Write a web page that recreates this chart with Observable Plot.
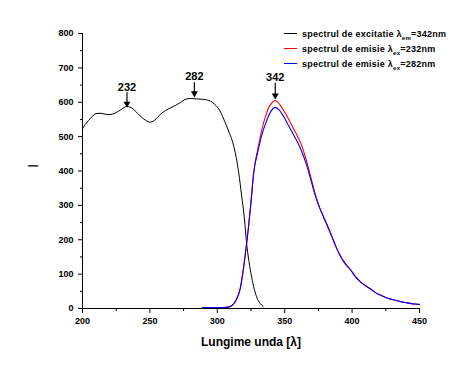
<!DOCTYPE html>
<html>
<head>
<meta charset="utf-8">
<script src="https://cdn.jsdelivr.net/npm/d3@7"></script>
<script src="https://cdn.jsdelivr.net/npm/@observablehq/plot@0.6"></script>
<style>
  html, body { margin: 0; padding: 0; background: #fff; }
  #wrap { position: relative; width: 461px; height: 375px; font-family: "Liberation Sans", Arial, sans-serif; }
  #legend { position: absolute; left: 284px; top: 26px; font-size: 9px; letter-spacing: 0.25px; font-weight: bold; color: #000; }
  #legend .row { display: flex; align-items: center; height: 15px; white-space: nowrap; }
  #legend svg { margin-right: 5px; }
  #legend sub { font-size: 6px; vertical-align: -3px; line-height: 0; }
</style>
</head>
<body>
<div id="wrap"><div id="legend"></div></div>
<script>
// Excitation spectrum (λem = 342 nm)
const lambdaExc = [200,202,204.5,207,210,213,216,219,222,225,228,231,233,235,238,241,244,247,250,253,256,259,264,269,273,276,280,284,288,292,295,298,300,302,304,307,309,311,314,316,318,320,322,324,326,328,330,332,334];
const intensityExc = [523,535,547,558,567,568,566,564,565,570,577,585,588,586,579,567,556,547,542,546,558,569,581,591,600,608,611,610,609,607,603,594,586,575,558,530,510,489,440,392,330,266,180,125,81,48,26,14,6];

// Emission spectra (shared wavelength grid)
const lambdaEm = [289,300,305,308,311,314,317,319,321,323,325,327,330,331,333,336,338,340,343,346,349,353,357,360,363,366,369,372,376,379,382,385,388,391,395,399,402,406,410,414,417,421,425,428,432,436,440,443,447,450];
const intensityEm232 = [3,3,3,4,9,25,58,105,165,232,310,395,463,482,520,562,583,596,605,595,578,550,520,497,470,432,388,342,292,265,238,209,180,155,130,112,95,78,66,56,47,39,32,28,24,20,17,15,13,12];
const intensityEm282 = [3,3,3,4,9,25,58,105,165,232,310,395,455,472,505,540,560,575,585,577,560,531,502,480,453,420,380,337,292,265,238,209,180,155,130,112,95,78,66,56,47,39,32,28,24,20,17,15,13,12];

// Peak annotations
const peakLabels = ["232","282","342"];
const peakX = [233,283,343];
const peakLabelY = [634,666,663];
const peakArrowTop = [628,657,655];
const peakArrowTip = [590,620,614];

// Ticks
const xTicks = [200,250,300,350,400,450];
const xMinorTicks = [225,275,325,375,425];
const yTicks = [0,100,200,300,400,500,600,700,800];
const yMinorTicks = [50,150,250,350,450,550,650,750];

// Legend
const seriesNames = [["spectrul de excitatie λ","em","=342nm"],["spectrul de emisie λ","ex","=232nm"],["spectrul de emisie λ","ex","=282nm"]];
const seriesColors = ["#000000","#ff0000","#0000ff"];

const exc = lambdaExc.map((x,i)=>({x, y: intensityExc[i]}));
const em232 = lambdaEm.map((x,i)=>({x, y: intensityEm232[i]}));
const em282 = lambdaEm.map((x,i)=>({x, y: intensityEm282[i]}));
const peaks = peakLabels.map((label,i)=>({label, x: peakX[i], ly: peakLabelY[i], top: peakArrowTop[i], tip: peakArrowTip[i]}));

const chart = Plot.plot({
  width: 461,
  height: 375,
  marginLeft: 82,
  marginRight: 42,
  marginTop: 33,
  marginBottom: 67,
  style: {fontFamily: "'Liberation Sans', Arial, sans-serif", fontSize: "9px", fontWeight: "bold", color: "#000", background: "transparent"},
  x: {domain: [200,450]},
  y: {domain: [0,800]},
  marks: [
    Plot.axisX(xTicks, {tickSize: 5, tickPadding: 4, label: null}),
    Plot.axisX(xMinorTicks, {tickSize: 3, text: null, label: null}),
    Plot.axisY(yTicks, {tickSize: 4, tickPadding: 5, label: null}),
    Plot.axisY(yMinorTicks, {tickSize: 2, text: null, label: null}),
    Plot.ruleX([200], {stroke: "#000"}),
    Plot.ruleY([0], {stroke: "#000"}),
    Plot.line(exc, {x: "x", y: "y", stroke: seriesColors[0], strokeWidth: 1, curve: "monotone-x"}),
    Plot.line(em232, {x: "x", y: "y", stroke: seriesColors[1], strokeWidth: 1.1, curve: "monotone-x"}),
    Plot.line(em282, {x: "x", y: "y", stroke: seriesColors[2], strokeWidth: 1.1, curve: "monotone-x"}),
    Plot.ruleX(peaks, {x: "x", y1: "top", y2: "tip", stroke: "#000", strokeWidth: 1.2}),
    Plot.dot(peaks, {x: "x", y: "tip", symbol: "triangle", r: 2.6, fill: "#000", stroke: "none", rotate: 180, dy: -2}),
    Plot.text(peaks, {x: "x", y: "ly", text: "label", lineAnchor: "bottom", fontSize: 11, fontWeight: "bold"}),
    Plot.text(["Lungime unda [λ]"], {frameAnchor: "bottom", dy: 34, lineAnchor: "middle", fontSize: 12, fontWeight: "bold"}),
    Plot.text(["I"], {frameAnchor: "left", dx: -49, dy: -3, rotate: -90, lineAnchor: "middle", fontSize: 15, fontWeight: "normal"})
  ]
});
const wrap = document.getElementById("wrap");
wrap.insertBefore(chart, wrap.firstChild);

const legend = document.getElementById("legend");
seriesNames.forEach((parts, i) => {
  const row = document.createElement("div");
  row.className = "row";
  row.innerHTML = `<svg width="13" height="3"><line x1="0" x2="13" y1="1.5" y2="1.5" stroke="${seriesColors[i]}" stroke-width="1"/></svg><span>${parts[0]}<sub>${parts[1]}</sub>${parts[2]}</span>`;
  legend.appendChild(row);
});
</script>
</body>
</html>
